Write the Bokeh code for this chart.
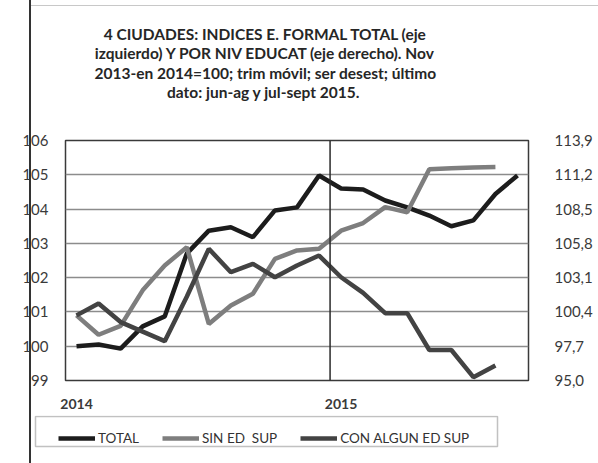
from bokeh.plotting import figure
from bokeh.layouts import column
from bokeh.models import (Range1d, LinearAxis, FixedTicker, CustomJSTickFormatter, Span,
                          Legend, LegendItem, BoxAnnotation, InlineStyleSheet)
from bokeh.core.properties import value
from bokeh.embed import file_html
from bokeh.resources import INLINE

# ---------------- data ----------------
months = ["ene-14", "feb-14", "mar-14", "abr-14", "may-14", "jun-14", "jul-14",
          "ago-14", "sep-14", "oct-14", "nov-14", "dic-14", "ene-15", "feb-15",
          "mar-15", "abr-15", "may-15", "jun-15", "jul-15", "ago-15", "sep-15"]

total = [100.0, 100.05, 99.93, 100.58, 100.87, 102.7, 103.37, 103.47, 103.18, 103.96,
         104.05, 104.98, 104.6, 104.57, 104.25, 104.05, 103.81, 103.5, 103.67, 104.44, 104.98]

sin_ed_sup = [100.13, 98.6, 99.3, 102.1, 104.05, 105.5, 99.45, 100.9, 101.83, 104.58,
              105.24, 105.37, 106.8, 107.4, 108.65, 108.25, 111.63, 111.72, 111.78, 111.82]

con_algun_ed_sup = [100.13, 101.07, 99.6, 98.85, 98.1, 101.6, 105.37, 103.53, 104.19, 103.13,
                    104.06, 104.84, 103.13, 101.9, 100.3, 100.3, 97.4, 97.4, 95.26, 96.18]

left_ticks = [99, 100, 101, 102, 103, 104, 105, 106]
right_ticks = [95.0, 97.7, 100.4, 103.1, 105.8, 108.5, 111.2, 113.9]
year_ticks = {"ene-14": "2014", "ene-15": "2015"}

series_names = ["TOTAL", "SIN ED  SUP", "CON ALGUN ED SUP"]
series_colors = ["#1c1c1c", "#7e7e7e", "#434343"]

title_lines = ["4 CIUDADES: INDICES E. FORMAL TOTAL (eje",
               "izquierdo) Y POR NIV EDUCAT (eje derecho). Nov",
               "2013-en 2014=100; trim m\u00f3vil; ser desest; \u00faltimo",
               "dato: jun-ag  y jul-sept 2015."]

FONT = "Lato"
W = 598
LW = 4.5

def blank(height, y_range):
    f = figure(width=W, height=height, title=None, output_backend="svg", toolbar_location=None,
               x_range=Range1d(0, W), y_range=y_range,
               frame_width=W, frame_height=height,
               min_border_left=0, min_border_right=0, min_border_top=0, min_border_bottom=0,
               x_axis_type=None, y_axis_type=None, outline_line_color=None,
               border_fill_color=None, background_fill_color=None)
    f.grid.visible = False
    f.frame_align = False
    return f

# ---------------- title block ----------------
TH = 132
tfig = blank(TH, Range1d(TH, 0))
tfig.text(x=[265] * len(title_lines), y=[33.5, 52.8, 72.1, 91.4], text=title_lines,
          text_align="center", text_baseline="alphabetic",
          text_font=value(FONT), text_font_size="15.5px", text_font_style="bold",
          text_color="#262626")

# ---------------- main chart ----------------
n = len(months)
xpos = [i + 0.5 for i in range(n)]
MH = 283

p = figure(width=W, height=MH, title=None, output_backend="svg", toolbar_location=None,
           x_range=Range1d(0, n), y_range=Range1d(left_ticks[0], left_ticks[-1]),
           frame_width=463, frame_height=240,
           min_border_left=65, min_border_right=70, min_border_top=8,
           min_border_bottom=35, background_fill_color="white",
           border_fill_color=None)
p.frame_align = False
p.extra_y_ranges = {"right": Range1d(right_ticks[0], right_ticks[-1])}

p.outline_line_color = "#3a3a3a"
p.outline_line_width = 1.5
p.xgrid.visible = False
p.ygrid.ticker = FixedTicker(ticks=left_ticks)
p.ygrid.grid_line_color = "#8c8c8c"
p.ygrid.grid_line_width = 1.5

ya = p.yaxis[0]
ya.ticker = FixedTicker(ticks=left_ticks)
ya.axis_line_color = None
ya.major_tick_line_color = None
ya.minor_tick_line_color = None
ya.major_label_standoff = 11
ya.major_label_text_font = FONT
ya.major_label_text_font_size = "15px"
ya.major_label_text_color = "#3a3a3a"

ra = LinearAxis(y_range_name="right", ticker=FixedTicker(ticks=right_ticks),
                formatter=CustomJSTickFormatter(code="return tick.toFixed(1).replace('.', ',');"))
ra.axis_line_color = None
ra.major_tick_line_color = None
ra.minor_tick_line_color = None
ra.major_label_standoff = 20
ra.major_label_text_font = FONT
ra.major_label_text_font_size = "15px"
ra.major_label_text_color = "#3a3a3a"
p.add_layout(ra, "right")

xa = p.xaxis[0]
xa.ticker = FixedTicker(ticks=[xpos[months.index(m)] for m in year_ticks])
xa.major_label_overrides = {xpos[months.index(m)]: lab for m, lab in year_ticks.items()}
xa.axis_line_color = None
xa.major_tick_line_color = None
xa.minor_tick_line_color = None
xa.major_label_standoff = 12
xa.major_label_text_font = FONT
xa.major_label_text_font_size = "14px"
xa.major_label_text_font_style = "bold"
xa.major_label_text_color = "#3a3a3a"

p.add_layout(Span(location=months.index("ene-15"), dimension="height",
                  line_color="#2a2a2a", line_width=1.5))

p.line(xpos, total, line_color=series_colors[0], line_width=LW)
p.line(xpos[:len(sin_ed_sup)], sin_ed_sup, line_color=series_colors[1],
       line_width=LW, y_range_name="right")
p.line(xpos[:len(con_algun_ed_sup)], con_algun_ed_sup, line_color=series_colors[2],
       line_width=LW, y_range_name="right")

# ---------------- legend block ----------------
LH = 463 - TH - MH
lfig = blank(LH, Range1d(0, LH))
# the same series (outside this strip's view) supply the legend swatches
lr = [lfig.line(xpos, total, line_color=series_colors[0], line_width=LW),
      lfig.line(xpos[:len(sin_ed_sup)], sin_ed_sup, line_color=series_colors[1], line_width=LW),
      lfig.line(xpos[:len(con_algun_ed_sup)], con_algun_ed_sup, line_color=series_colors[2],
                line_width=LW)]
lfig.add_layout(BoxAnnotation(left=35, right=497, bottom=17, top=47, fill_color=None,
                              line_color="#333333", line_width=1.5))
legend = Legend(items=[LegendItem(label=nm, renderers=[r]) for nm, r in zip(series_names, lr)],
                orientation="horizontal", location=(58, 17),
                glyph_width=37, glyph_height=14, label_standoff=3, spacing=23,
                padding=7, margin=0, border_line_color=None, background_fill_alpha=0,
                label_text_font=FONT, label_text_font_size="13.5px",
                label_text_color="#333333")
lfig.add_layout(legend)

layout = column(tfig, p, lfig, spacing=0)
layout.stylesheets = [InlineStyleSheet(css=(
    ":host { position: relative; }"
    ":host::after { content: ''; position: absolute; left: 29px; top: 0px; width: 2px;"
    " height: 463px; background: #333333; pointer-events: none; }"
    ":host::before { content: ''; position: absolute; left: 29px; top: 5px; right: 0px;"
    " height: 1px; background: #c8c8c8; pointer-events: none; }"))]

open("out.html", "w").write(file_html(layout, INLINE))
